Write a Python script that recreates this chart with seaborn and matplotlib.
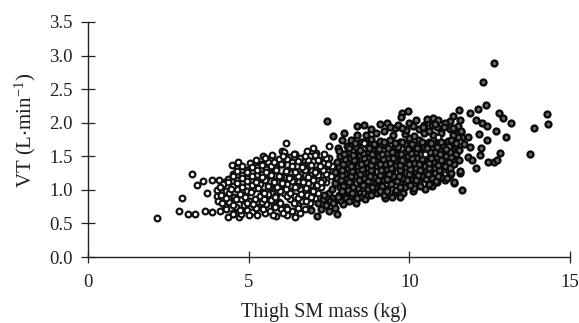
import matplotlib
matplotlib.use('Agg')
import matplotlib.pyplot as plt
import seaborn as sns

# Open circles (lower thigh SM mass)
white_x = [
    2.14, 2.82, 2.93, 3.10, 3.34, 3.25, 3.40, 3.57, 3.71, 3.64, 3.85, 3.87, 4.09, 4.27, 4.02,
    6.16, 5.44, 5.69, 6.05, 7.50, 7.01, 4.68, 4.49,
    4.35, 4.70, 4.75, 5.25, 5.50, 5.85, 6.20, 6.45,
    4.10, 4.50, 4.95, 5.10, 5.65, 6.00, 6.35, 6.75,
    4.25, 4.60, 4.85, 5.30, 5.55, 5.80, 6.15, 6.55, 6.90,
    4.05, 4.40, 4.75, 5.00, 5.20, 5.70, 5.95, 6.30, 6.65, 7.05,
    4.15, 4.55, 4.90, 5.35, 5.60, 5.85, 6.10, 6.45, 6.80, 7.15,
    4.00, 4.30, 4.65, 4.95, 5.15, 5.45, 5.75, 6.00, 6.30, 6.60, 6.95, 7.25,
    4.20, 4.50, 4.80, 5.10, 5.35, 5.65, 5.90, 6.20, 6.50, 6.85, 7.10, 7.40,
    4.35, 4.65, 4.95, 5.25, 5.55, 5.80, 6.10, 6.40, 6.70, 7.00, 7.30, 7.55,
    4.50, 4.80, 5.10, 5.40, 5.70, 6.00, 6.30, 6.60, 6.90, 7.20, 7.45,
    4.65, 4.95, 5.25, 5.55, 5.85, 6.20, 6.50, 6.80, 7.10, 7.35, 7.60,
    5.05, 5.40, 5.60, 6.05, 6.35, 6.70, 7.00, 7.30,
    5.50, 5.95, 6.25, 6.60, 6.90, 7.20, 7.50,
    6.10, 6.45, 6.80, 7.10,
    8.60, 10.90, 10.50,
    4.52, 5.02, 5.75, 6.08, 6.60,
    4.30, 4.72, 5.22, 5.45, 5.82, 6.18, 6.52,
    4.18, 4.50, 4.95, 5.12, 5.42, 5.98, 6.42, 6.78,
    4.28, 4.62, 4.88, 5.48, 5.82, 6.18, 6.55, 6.95,
    4.38, 4.72, 5.08, 5.48, 5.98, 6.28, 6.62, 7.00,
    4.12, 4.45, 4.78, 5.28, 5.60, 5.88, 6.15, 6.45, 6.78, 7.12,
    4.35, 4.65, 4.95, 5.22, 5.50, 5.78, 6.05, 6.35, 6.68, 7.00, 7.25,
    4.50, 4.80, 5.10, 5.40, 5.68, 5.95, 6.25, 6.55, 6.85, 7.15, 7.42,
    4.65, 4.95, 5.25, 5.55, 5.85, 6.15, 6.45, 6.75, 7.05, 7.32,
    4.80, 5.10, 5.40, 5.70, 6.02, 6.35, 6.65, 6.95, 7.22, 7.48,
    5.22, 5.78, 6.20, 6.52, 6.85, 7.15, 7.42,
    5.72, 6.08, 6.42, 6.75, 7.05, 7.35,
]
white_y = [
    0.585, 0.68, 0.88, 0.645, 0.645, 1.24, 1.07, 1.13, 0.96, 0.69, 0.67, 1.14, 1.14, 1.12, 0.91,
    1.70, 1.505, 1.47, 1.58, 1.66, 1.63, 1.41, 1.37,
    0.60, 0.59, 0.64, 0.62, 0.65, 0.61, 0.63, 0.60,
    0.68, 0.66, 0.70, 0.67, 0.69, 0.71, 0.68, 0.72,
    0.76, 0.74, 0.78, 0.75, 0.79, 0.77, 0.74, 0.78, 0.80,
    0.84, 0.82, 0.86, 0.83, 0.87, 0.85, 0.82, 0.86, 0.84, 0.88,
    0.92, 0.90, 0.93, 0.91, 0.94, 0.92, 0.95, 0.91, 0.93, 0.96,
    1.00, 0.98, 1.02, 0.99, 1.01, 0.97, 1.03, 1.00, 0.98, 1.02, 1.00, 1.04,
    1.08, 1.06, 1.10, 1.07, 1.09, 1.05, 1.11, 1.08, 1.06, 1.10, 1.07, 1.12,
    1.16, 1.14, 1.18, 1.15, 1.17, 1.13, 1.19, 1.16, 1.14, 1.18, 1.15, 1.20,
    1.24, 1.22, 1.26, 1.23, 1.25, 1.21, 1.27, 1.24, 1.22, 1.26, 1.28,
    1.32, 1.30, 1.34, 1.31, 1.33, 1.29, 1.35, 1.32, 1.30, 1.34, 1.36,
    1.40, 1.38, 1.42, 1.39, 1.41, 1.37, 1.43, 1.40,
    1.48, 1.46, 1.49, 1.47, 1.50, 1.45, 1.48,
    1.56, 1.54, 1.58, 1.55,
    1.70, 1.79, 1.54,
    0.64, 0.62, 0.63, 0.65, 0.66,
    0.72, 0.70, 0.73, 0.71, 0.74, 0.72, 0.73,
    0.80, 0.78, 0.81, 0.79, 0.82, 0.80, 0.81, 0.83,
    0.88, 0.86, 0.90, 0.87, 0.89, 0.91, 0.88, 0.90,
    0.96, 0.94, 0.97, 0.95, 0.98, 0.96, 0.94, 0.98,
    1.04, 1.02, 1.05, 1.03, 1.06, 1.04, 1.02, 1.05, 1.03, 1.07,
    1.12, 1.10, 1.13, 1.11, 1.14, 1.12, 1.10, 1.13, 1.11, 1.14, 1.12,
    1.20, 1.18, 1.21, 1.19, 1.22, 1.20, 1.18, 1.21, 1.19, 1.22, 1.24,
    1.28, 1.26, 1.29, 1.27, 1.30, 1.28, 1.26, 1.29, 1.27, 1.30,
    1.36, 1.34, 1.37, 1.35, 1.38, 1.36, 1.34, 1.37, 1.35, 1.38,
    1.44, 1.42, 1.46, 1.43, 1.45, 1.44, 1.47,
    1.52, 1.50, 1.53, 1.51, 1.52, 1.54,
]

# Filled circles (higher thigh SM mass)
dark_x = [
    12.62, 12.29, 12.38, 12.13, 11.89, 12.80, 12.90, 13.15, 13.88, 14.28, 14.31, 13.76, 13.01,
    12.70, 12.41, 12.82, 12.07, 11.58, 11.40, 11.65, 12.09, 12.25, 12.41, 12.17, 11.84, 11.63,
    11.89, 12.23, 12.20, 11.84, 11.94, 12.45, 12.62, 12.74, 11.55, 11.58, 11.27, 10.75, 10.90,
    9.97, 9.76, 7.43, 7.64, 7.98, 7.90, 7.79, 8.36, 8.60, 8.36, 9.30,
    7.12, 7.74, 6.95, 7.25, 7.50, 7.70,
    7.15, 7.40, 7.65, 7.95, 8.34,
    7.30, 7.60, 7.85, 8.15, 8.62, 9.24, 9.45,
    7.50, 7.80, 8.00, 8.30, 8.60, 8.90, 9.20, 9.55, 9.81, 10.10,
    7.60, 7.85, 8.10, 8.40, 8.70, 8.95, 9.30, 9.60, 9.85, 10.15, 10.49, 10.70,
    7.70, 7.95, 8.20, 8.50, 8.80, 9.10, 9.40, 9.70, 10.00, 10.30, 10.60, 10.85, 11.10, 11.40,
    7.75, 8.05, 8.30, 8.60, 8.90, 9.20, 9.50, 9.80, 10.10, 10.40, 10.70, 11.00, 11.25,
    7.70, 8.00, 8.25, 8.55, 8.85, 9.15, 9.45, 9.75, 10.05, 10.35, 10.65, 10.95, 11.20, 11.58,
    7.80, 8.10, 8.40, 8.70, 9.00, 9.30, 9.60, 9.90, 10.20, 10.50, 10.80, 11.10, 11.40,
    7.75, 8.05, 8.35, 8.65, 8.95, 9.25, 9.55, 9.85, 10.15, 10.45, 10.75, 11.05, 11.35, 11.55,
    7.85, 8.15, 8.45, 8.75, 9.05, 9.35, 9.65, 9.95, 10.25, 10.55, 10.85, 11.15, 11.45,
    7.80, 8.10, 8.40, 8.70, 9.00, 9.30, 9.60, 9.90, 10.20, 10.50, 10.80, 11.10, 11.40,
    8.05, 8.35, 8.65, 8.95, 9.25, 9.55, 9.85, 10.15, 10.45, 10.75, 11.05, 11.35,
    8.20, 8.50, 8.80, 9.10, 9.40, 9.70, 10.00, 10.30, 10.60, 10.90, 11.20, 11.50,
    8.65, 8.95, 9.50, 9.85, 10.15, 10.45, 10.75, 11.00, 11.35, 11.60,
    8.80, 9.20, 9.55, 9.90, 10.30, 10.60, 10.85, 11.25,
    9.10, 9.65, 10.00, 10.45, 11.10,
    7.95, 8.25, 8.55, 8.85, 9.15, 9.42, 9.72, 10.02, 10.32, 10.62,
    7.88, 8.12, 8.42, 8.72, 9.02, 9.32, 9.62, 9.92, 10.22, 10.52, 10.82, 11.18,
    7.92, 8.18, 8.48, 8.78, 9.08, 9.38, 9.68, 9.98, 10.28, 10.58, 10.88, 11.30,
    7.90, 8.22, 8.52, 8.82, 9.12, 9.42, 9.72, 10.02, 10.32, 10.62, 10.92, 11.25,
    7.95, 8.20, 8.50, 8.80, 9.10, 9.40, 9.70, 10.00, 10.30, 10.60, 10.90, 11.22,
    8.00, 8.28, 8.58, 8.88, 9.18, 9.48, 9.78, 10.08, 10.38, 10.68, 10.98, 11.30,
    7.98, 8.25, 8.55, 8.85, 9.15, 9.45, 9.75, 10.05, 10.35, 10.65, 10.95, 11.26,
    8.12, 8.45, 8.75, 9.05, 9.35, 9.65, 9.95, 10.25, 10.55, 10.85, 11.15, 11.45,
    8.30, 8.60, 8.90, 9.22, 9.55, 9.78, 10.08, 10.38, 10.68, 10.98, 11.30,
    9.40, 9.78, 10.12, 10.42, 10.72, 11.08, 11.42,
    9.75, 10.20, 10.55, 10.80, 11.35,
    7.52, 7.78, 8.02, 8.22, 8.45, 8.72, 9.00, 9.30,
    7.35, 7.62, 7.90, 8.12, 8.38, 8.80, 9.10, 9.70,
    11.45, 11.62, 11.50, 11.70, 11.35, 11.55,
]
dark_y = [
    2.89, 2.60, 2.27, 2.20, 2.14, 2.15, 2.07, 1.99, 1.92, 2.13, 1.98, 1.54, 1.78,
    1.87, 1.74, 1.55, 1.32, 1.25, 1.10, 1.00, 2.04, 1.99, 1.95, 1.83, 1.79, 1.79,
    1.64, 1.62, 1.52, 1.49, 1.45, 1.42, 1.42, 1.44, 2.19, 2.04, 2.02, 2.07, 2.04,
    2.17, 2.15, 2.02, 1.80, 1.84, 1.74, 1.62, 1.95, 1.96, 1.82, 1.99,
    0.615, 0.636, 0.70, 0.72, 0.69, 0.73,
    0.80, 0.78, 0.82, 0.79, 0.80,
    0.87, 0.88, 0.85, 0.89, 0.86, 0.875, 0.90,
    0.95, 0.93, 0.97, 0.94, 0.96, 0.98, 0.93, 0.97, 0.95, 0.99,
    1.02, 1.04, 1.00, 1.03, 1.01, 1.05, 1.02, 1.00, 1.04, 1.03, 1.01, 1.06,
    1.10, 1.08, 1.12, 1.09, 1.11, 1.07, 1.13, 1.10, 1.08, 1.12, 1.09, 1.11, 1.14, 1.12,
    1.18, 1.16, 1.20, 1.17, 1.19, 1.15, 1.21, 1.18, 1.16, 1.20, 1.17, 1.19, 1.22,
    1.26, 1.24, 1.28, 1.25, 1.27, 1.23, 1.29, 1.26, 1.24, 1.28, 1.25, 1.27, 1.30, 1.28,
    1.34, 1.32, 1.36, 1.33, 1.35, 1.31, 1.37, 1.34, 1.32, 1.36, 1.33, 1.35, 1.38,
    1.42, 1.40, 1.44, 1.41, 1.43, 1.39, 1.45, 1.42, 1.40, 1.44, 1.41, 1.43, 1.46, 1.44,
    1.50, 1.48, 1.52, 1.49, 1.51, 1.47, 1.53, 1.50, 1.48, 1.52, 1.49, 1.51, 1.54,
    1.58, 1.56, 1.60, 1.57, 1.59, 1.55, 1.61, 1.58, 1.56, 1.60, 1.57, 1.59, 1.62,
    1.66, 1.64, 1.68, 1.65, 1.67, 1.63, 1.69, 1.66, 1.64, 1.68, 1.65, 1.70,
    1.74, 1.72, 1.76, 1.73, 1.75, 1.71, 1.77, 1.74, 1.72, 1.76, 1.73, 1.78,
    1.82, 1.84, 1.81, 1.83, 1.80, 1.85, 1.82, 1.84, 1.81, 1.86,
    1.90, 1.88, 1.92, 1.89, 1.91, 1.87, 1.93, 1.90,
    1.98, 1.96, 2.00, 1.97, 1.99,
    1.06, 1.04, 1.07, 1.05, 1.06, 1.08, 1.05, 1.07, 1.06, 1.08,
    1.14, 1.12, 1.15, 1.13, 1.14, 1.16, 1.13, 1.15, 1.14, 1.16, 1.13, 1.17,
    1.22, 1.20, 1.23, 1.21, 1.22, 1.24, 1.21, 1.23, 1.22, 1.24, 1.21, 1.25,
    1.30, 1.28, 1.31, 1.29, 1.30, 1.32, 1.29, 1.31, 1.30, 1.32, 1.29, 1.33,
    1.38, 1.36, 1.39, 1.37, 1.38, 1.40, 1.37, 1.39, 1.38, 1.40, 1.37, 1.41,
    1.46, 1.44, 1.47, 1.45, 1.46, 1.48, 1.45, 1.47, 1.46, 1.48, 1.45, 1.49,
    1.54, 1.52, 1.55, 1.53, 1.54, 1.56, 1.53, 1.55, 1.54, 1.56, 1.53, 1.57,
    1.62, 1.60, 1.63, 1.61, 1.62, 1.64, 1.61, 1.63, 1.62, 1.64, 1.61, 1.65,
    1.70, 1.72, 1.69, 1.71, 1.70, 1.72, 1.69, 1.71, 1.70, 1.72, 1.74,
    1.94, 1.92, 1.95, 1.93, 1.96, 1.94, 1.90,
    2.08, 2.04, 2.06, 1.98, 2.10,
    0.84, 0.90, 0.88, 0.95, 0.90, 0.93, 0.96, 0.98,
    0.92, 0.80, 0.98, 0.84, 0.88, 0.93, 0.98, 0.90,
    1.70, 1.88, 1.95, 1.68, 1.92, 1.60,
]

x_ticks = [0, 5, 10, 15]
y_ticks = [0.0, 0.5, 1.0, 1.5, 2.0, 2.5, 3.0, 3.5]

sns.set_style('white')
plt.rcParams['font.family'] = ['Liberation Serif', 'DejaVu Serif']
plt.rcParams['mathtext.fontset'] = 'custom'
plt.rcParams['mathtext.rm'] = 'Liberation Serif'
plt.rcParams['mathtext.default'] = 'regular'

fig = plt.figure(figsize=(5.79, 3.23), dpi=100)
ax = fig.add_axes([88 / 579, (323 - 257) / 323, 482 / 579, 235 / 323])

# dark group first, the open circles sit on top where they overlap
sns.scatterplot(x=dark_x, y=dark_y, ax=ax, s=18, color='#666666', edgecolor='#0a0a0a',
                linewidth=1.7, clip_on=False, zorder=3)
sns.scatterplot(x=white_x, y=white_y, ax=ax, s=17, color='white', edgecolor='#111111',
                linewidth=1.6, clip_on=False, zorder=4)

ax.set_xlim(0, 15)
ax.set_ylim(0, 3.5)
ax.set_xticks(x_ticks)
ax.set_yticks(y_ticks)
ax.set_yticklabels([f'{v:.1f}' for v in y_ticks])
ax.tick_params(axis='y', direction='inout', length=10, width=0.9, color='#222222',
               labelsize=13.5, labelcolor='#222222', pad=6, left=True)
ax.tick_params(axis='x', direction='inout', length=9, width=0.9, color='#222222',
               labelsize=13.5, labelcolor='#222222', pad=8, bottom=True)

ax.set_xlabel('Thigh SM mass (kg)', fontsize=14.5, color='#222222', va='top')
ax.set_ylabel(r'VT (L$\cdot$min$^{-1}$)', fontsize=15, color='#222222')
ax.xaxis.set_label_coords((323.5 - 88) / 482, -45 / 235)
ax.yaxis.set_label_coords((38 - 88) / 482, (257 - 130) / 235)

sns.despine(ax=ax)
ax.spines['left'].set_linewidth(1.0)
ax.spines['bottom'].set_linewidth(1.0)
ax.spines['left'].set_color('#222222')
ax.spines['bottom'].set_color('#222222')

fig.savefig('out.png', dpi=100)
